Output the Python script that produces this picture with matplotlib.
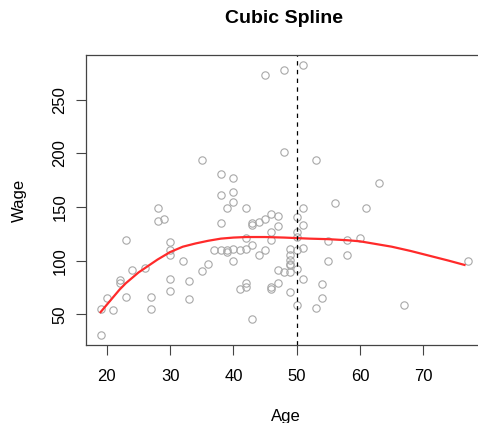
import matplotlib
matplotlib.use("Agg")
import matplotlib.pyplot as plt

# scatter of wage vs age
ages = [35, 38, 38, 38, 28, 28, 29, 23, 30, 30, 30, 32, 37, 38, 36, 35, 26, 24,
        22, 22, 30, 33, 30, 23, 27, 33, 20, 19, 21, 27, 19,
        51, 48, 45, 48, 53, 40, 40, 40, 39, 42, 43, 43, 44, 45, 46, 47, 47, 46,
        46, 42, 50, 51, 51, 50, 50, 56, 55, 55, 53, 54, 54, 51, 50, 50, 49, 49,
        48, 47, 47, 46, 46, 42, 42, 41, 43, 49, 49, 49, 49, 49, 50, 51, 45, 44,
        43, 42, 41, 40, 40, 39, 39,
        63, 61, 60, 58, 58, 67, 77]
wages = [194, 181, 161, 135, 149, 137, 139, 119, 117, 110, 105, 100, 110, 110,
         97, 90, 93, 91, 82, 79, 83, 81, 72, 66, 66, 64, 65, 55, 54, 55, 31,
         282, 278, 273, 201, 194, 177, 164, 155, 149, 149, 135, 133, 136, 139,
         143, 142, 132, 127, 119, 121, 141, 149, 133, 127, 122, 154, 118, 100,
         56, 65, 78, 83, 92, 59, 71, 89, 89, 91, 79, 75, 74, 79, 75, 74, 46,
         111, 105, 101, 97, 96, 110, 112, 110, 105, 115, 111, 110, 111, 100,
         110, 108,
         172, 149, 121, 119, 105, 59, 100]

# fitted cubic spline
fit_age = [19, 20, 21, 22, 23, 24, 25, 26, 28, 30, 32, 34, 36, 38, 40, 42, 45,
           48, 50, 52, 55, 58, 60, 62, 65, 68, 70, 72, 74, 76.5]
fit_wage = [52, 59, 66, 73, 79, 84, 89, 93, 101, 108, 113, 116, 118.5, 120.5,
            121.5, 122, 122, 121.5, 121, 120.5, 120, 119, 118, 116, 113, 109,
            106, 103, 100, 96]

knot = 50

plt.rcParams['font.family'] = ['Liberation Sans', 'DejaVu Sans']

fig = plt.figure(figsize=(4.78, 4.23), dpi=100)
# the plot box runs a little past the right edge of the picture
ax = fig.add_axes([86 / 478, 78 / 423, 400 / 478, 290 / 423])

ax.plot(ages, wages, linestyle='none', marker='o', markersize=5.3,
        markerfacecolor='none', markeredgecolor='#a8a8a8', markeredgewidth=0.8)
ax.plot(fit_age, fit_wage, color='#ff2a2a', linewidth=1.6)
ax.axvline(knot, color='black', linestyle=(0, (3.5, 3.5)), linewidth=0.9)

ax.set_xlim(16.7, 79.9)
ax.set_ylim(21.4, 291.6)
ax.set_xticks([20, 30, 40, 50, 60, 70])
ax.set_yticks([50, 100, 150, 200, 250])

for s in ax.spines.values():
    s.set_color('#444444')
    s.set_linewidth(0.9)

ax.tick_params(axis='both', direction='out', length=7, width=0.8,
               color='#444444', labelsize=12)
ax.tick_params(axis='x', pad=10)
ax.tick_params(axis='y', pad=6.5)
for lab in ax.get_yticklabels():
    lab.set_rotation(90)
    lab.set_va('center')

ax.set_xlabel('Age', fontsize=12, labelpad=18)
ax.set_ylabel('Wage', fontsize=12, labelpad=18)
ax.set_title('Cubic Spline', fontsize=14, fontweight='bold', pad=23,
             x=(284 - 86) / 400)

fig.savefig('out.png', dpi=100)
